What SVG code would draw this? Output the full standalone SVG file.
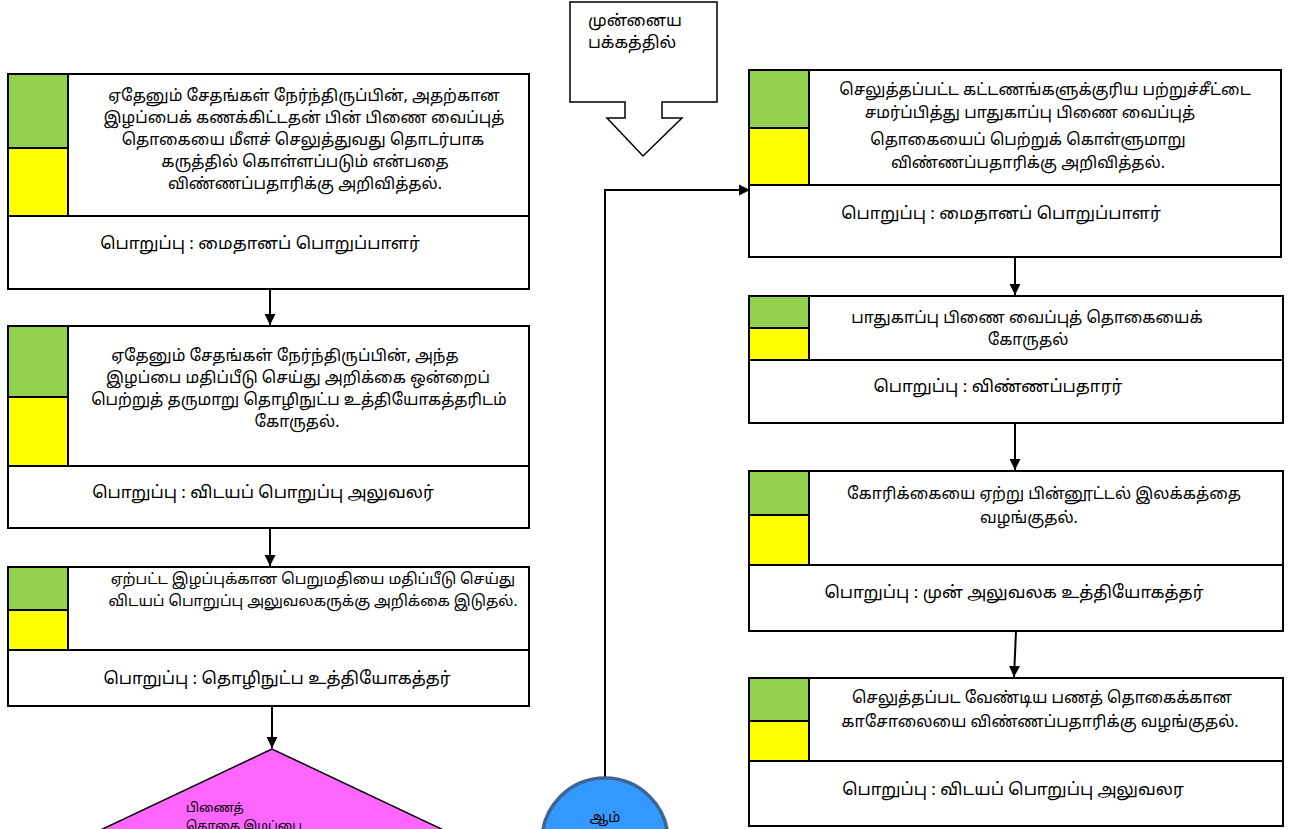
<svg xmlns="http://www.w3.org/2000/svg" width="1296" height="829" viewBox="0 0 1296 829">
<defs>
<style>
.box{fill:#fff;stroke:#000;stroke-width:2}
.g{fill:#92D050;stroke:#000;stroke-width:2}
.y{fill:#FFFF00;stroke:#000;stroke-width:2}
.ln{stroke:#000;stroke-width:2;fill:none}
text{font-family:"Noto Sans Tamil","Lohit Tamil","Noto Sans","DejaVu Sans",sans-serif;fill:#000;text-anchor:middle}
.d{font-size:16px}
.s{font-size:15px}
.r{font-size:17px}
</style>
<marker id="ah" markerWidth="11" markerHeight="13" refX="12" refY="6" orient="auto" markerUnits="userSpaceOnUse" viewBox="0 0 12 12">
<path d="M0,0 L12,6 L0,12 Z" fill="#000"/>
</marker>
</defs>
<rect width="1296" height="829" fill="#fff"/>

<g id="connectors">
<line class="ln" x1="270" y1="289" x2="270" y2="325" marker-end="url(#ah)"/>
<line class="ln" x1="270" y1="528" x2="270" y2="566" marker-end="url(#ah)"/>
<line class="ln" x1="272" y1="706" x2="272" y2="748" marker-end="url(#ah)"/>
<polyline class="ln" points="605,777 605,190 750,190" marker-end="url(#ah)"/>
<line class="ln" x1="1015" y1="257" x2="1015" y2="295" marker-end="url(#ah)"/>
<line class="ln" x1="1015" y1="423" x2="1015" y2="470" marker-end="url(#ah)"/>
<line class="ln" x1="1016" y1="631" x2="1014" y2="677" marker-end="url(#ah)"/>
</g>

<g id="n1">
<rect class="box" x="8" y="74" width="521" height="215"/>
<rect class="g" x="8" y="74" width="60" height="74"/>
<rect class="y" x="8" y="148" width="60" height="68"/>
<line class="ln" x1="68" y1="74" x2="68" y2="216"/>
<line class="ln" x1="8" y1="216" x2="529" y2="216"/>
<text class="d" x="304" y="101">ஏதேனும் சேதங்கள் நேர்ந்திருப்பின், அதற்கான</text>
<text class="d" x="304" y="123">இழப்பைக் கணக்கிட்டதன் பின் பிணை வைப்புத்</text>
<text class="d" x="303" y="145">தொகையை மீளச் செலுத்துவது தொடர்பாக</text>
<text class="d" x="305" y="167">கருத்தில் கொள்ளப்படும் என்பதை</text>
<text class="d" x="305" y="189">விண்ணப்பதாரிக்கு அறிவித்தல்.</text>
<text class="r" x="260" y="249">பொறுப்பு  : மைதானப் பொறுப்பாளர்</text>
</g>

<g id="n2">
<rect class="box" x="8" y="326" width="521" height="202"/>
<rect class="g" x="8" y="326" width="60" height="71"/>
<rect class="y" x="8" y="397" width="60" height="69"/>
<line class="ln" x1="68" y1="326" x2="68" y2="466"/>
<line class="ln" x1="8" y1="466" x2="529" y2="466"/>
<text class="d" x="285" y="361">ஏதேனும் சேதங்கள் நேர்ந்திருப்பின், அந்த</text>
<text class="d" x="298" y="383">இழப்பை மதிப்பீடு செய்து அறிக்கை ஒன்றைப்</text>
<text class="d" x="299" y="405">பெற்றுத் தருமாறு தொழிநுட்ப உத்தியோகத்தரிடம்</text>
<text class="d" x="297" y="427">கோருதல்.</text>
<text class="r" x="263" y="498">பொறுப்பு  : விடயப் பொறுப்பு அலுவலர்</text>
</g>

<g id="n3">
<rect class="box" x="8" y="567" width="521" height="139"/>
<rect class="g" x="8" y="567" width="60" height="43"/>
<rect class="y" x="8" y="610" width="60" height="40"/>
<line class="ln" x1="68" y1="567" x2="68" y2="650"/>
<line class="ln" x1="8" y1="650" x2="529" y2="650"/>
<text class="s" x="313" y="584">ஏற்பட்ட இழப்புக்கான பெறுமதியை மதிப்பீடு செய்து</text>
<text class="s" x="313" y="606">விடயப் பொறுப்பு அலுவலகருக்கு அறிக்கை இடுதல்.</text>
<text class="r" x="277" y="684">பொறுப்பு  : தொழிநுட்ப உத்தியோகத்தர்</text>
</g>

<g id="decision">
<polygon points="272,749 -18,886 272,1023 562,886" fill="#FF66FF" stroke="#000" stroke-width="1.5"/>
<text x="186" y="812" style="font-size:12.5px;text-anchor:start">பிணைத்</text>
<text x="186" y="830" style="font-size:12.5px;text-anchor:start">தொகை இழப்பை</text>
</g>

<g id="yes">
<circle cx="605" cy="841" r="63" fill="#3399FF" stroke="#3F6497" stroke-width="3.5"/>
<text x="605" y="822" style="font-size:14px">ஆம்</text>
</g>

<g id="offpage">
<path d="M570,2 L717,2 L717,102 L662,102 L662,118 L682,118 L643,156 L607,118 L625,118 L625,102 L570,102 Z" fill="#fff" stroke="#000" stroke-width="1.5"/>
<text x="588" y="26" style="font-size:16.5px;text-anchor:start">முன்னைய</text>
<text x="588" y="48" style="font-size:16.5px;text-anchor:start">பக்கத்தில்</text>
</g>

<g id="r1">
<rect class="box" x="749" y="70" width="532" height="187"/>
<rect class="g" x="749" y="70" width="60" height="58"/>
<rect class="y" x="749" y="128" width="60" height="57"/>
<line class="ln" x1="809" y1="70" x2="809" y2="185"/>
<line class="ln" x1="749" y1="185" x2="1281" y2="185"/>
<text class="d" x="1045" y="95">செலுத்தப்பட்ட கட்டணங்களுக்குரிய பற்றுச்சீட்டை</text>
<text class="d" x="1030" y="118">சமர்ப்பித்து பாதுகாப்பு பிணை வைப்புத்</text>
<text class="d" x="1028" y="145">தொகையைப் பெற்றுக் கொள்ளுமாறு</text>
<text class="d" x="1028" y="168">விண்ணப்பதாரிக்கு அறிவித்தல்.</text>
<text class="r" x="1001" y="219">பொறுப்பு  : மைதானப் பொறுப்பாளர்</text>
</g>

<g id="r2">
<rect class="box" x="749" y="296" width="534" height="127"/>
<rect class="g" x="749" y="296" width="60" height="32"/>
<rect class="y" x="749" y="328" width="60" height="32"/>
<line class="ln" x1="809" y1="296" x2="809" y2="360"/>
<line class="ln" x1="749" y1="360" x2="1283" y2="360"/>
<text class="d" x="1027" y="323">பாதுகாப்பு பிணை வைப்புத் தொகையைக்</text>
<text class="d" x="1028" y="345">கோருதல்</text>
<text class="r" x="998" y="392">பொறுப்பு  : விண்ணப்பதாரர்</text>
</g>

<g id="r3">
<rect class="box" x="749" y="471" width="534" height="160"/>
<rect class="g" x="749" y="471" width="60" height="44"/>
<rect class="y" x="749" y="515" width="60" height="50"/>
<line class="ln" x1="809" y1="471" x2="809" y2="565"/>
<line class="ln" x1="749" y1="565" x2="1283" y2="565"/>
<text class="d" x="1044" y="499">கோரிக்கையை ஏற்று பின்னூட்டல் இலக்கத்தை</text>
<text class="d" x="1029" y="523">வழங்குதல்.</text>
<text class="r" x="1014" y="598">பொறுப்பு  : முன் அலுவலக உத்தியோகத்தர்</text>
</g>

<g id="r4">
<rect class="box" x="749" y="678" width="534" height="148"/>
<rect class="g" x="749" y="678" width="60" height="43"/>
<rect class="y" x="749" y="721" width="60" height="40"/>
<line class="ln" x1="809" y1="678" x2="809" y2="761"/>
<line class="ln" x1="749" y1="761" x2="1283" y2="761"/>
<text class="d" x="1042" y="703">செலுத்தப்பட வேண்டிய பணத் தொகைக்கான</text>
<text class="d" x="1040" y="727">காசோலையை விண்ணப்பதாரிக்கு வழங்குதல்.</text>
<text class="r" x="1013" y="795">பொறுப்பு  : விடயப் பொறுப்பு அலுவலர</text>
</g>
</svg>
